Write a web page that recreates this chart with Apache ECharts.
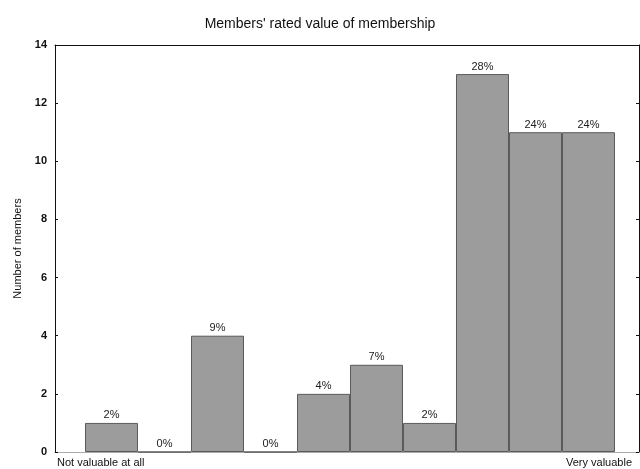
<!DOCTYPE html>
<html>
<head>
<meta charset="utf-8">
<script src="https://cdn.jsdelivr.net/npm/echarts@6/dist/echarts.min.js"></script>
<style>
  html, body { margin: 0; padding: 0; background: #fff; }
  #chart { width: 640px; height: 469px; }
</style>
</head>
<body>
<div id="chart"></div>
<script>
// Rating scale positions (1 = not valuable at all ... 10 = very valuable)
const ratings = [1, 2, 3, 4, 5, 6, 7, 8, 9, 10];
// Number of members giving each rating
const members = [1, 0, 4, 0, 2, 3, 1, 13, 11, 11];
// Y axis ticks
const yTicks = [0, 2, 4, 6, 8, 10, 12, 14];
const endLabels = ['Not valuable at all', 'Very valuable'];

const total = members.reduce((a, b) => a + b, 0);
const font = 'Liberation Sans, Arial, sans-serif';
const xMin = -0.066, xMax = 10.953;

const frameX = (pos, color) => ({
  type: 'value', position: pos, min: xMin, max: xMax,
  axisLine: { show: true, onZero: false, lineStyle: { color: color } },
  axisTick: { show: false }, axisLabel: { show: false }, splitLine: { show: false }
});

const chart = echarts.init(document.getElementById('chart'));
chart.setOption({
  animation: false,
  backgroundColor: '#fff',
  title: {
    text: "Members' rated value of membership",
    left: 'center',
    top: 12,
    textStyle: { fontFamily: font, fontSize: 14, fontWeight: 'normal', color: '#111' }
  },
  grid: { left: 55, right: 1, top: 45, bottom: 17 },
  xAxis: [frameX('bottom', '#aaa'), frameX('top', '#111')],
  yAxis: [{
    type: 'value',
    min: yTicks[0],
    max: yTicks[yTicks.length - 1],
    interval: 2,
    name: 'Number of members',
    nameLocation: 'middle',
    nameGap: 32,
    nameTextStyle: { fontFamily: font, fontSize: 11, color: '#111' },
    axisLine: { show: true, onZero: false, lineStyle: { color: '#111' } },
    axisTick: { show: true, inside: true, length: 3, lineStyle: { color: '#111' } },
    axisLabel: { fontFamily: font, fontSize: 11, fontWeight: 'bold', color: '#111', margin: 8 },
    splitLine: { show: false }
  }, {
    type: 'value',
    position: 'right',
    min: yTicks[0],
    max: yTicks[yTicks.length - 1],
    interval: 2,
    axisLine: { show: true, onZero: false, lineStyle: { color: '#111' } },
    axisTick: { show: true, inside: true, length: 3, lineStyle: { color: '#111' } },
    axisLabel: { show: false },
    splitLine: { show: false }
  }],
  series: [{
    type: 'bar',
    data: ratings.map((r, i) => [r, members[i]]),
    barWidth: 53,
    itemStyle: { color: '#9c9c9c', borderColor: '#5a5a5a', borderWidth: 1 },
    label: {
      show: true,
      position: 'top',
      distance: 2,
      fontFamily: font,
      fontSize: 11,
      color: '#222',
      formatter: p => Math.round(p.value[1] / total * 100) + '%'
    }
  }],
  graphic: [
    { type: 'text', left: 57, top: 457,
      style: { text: endLabels[0], font: '11px ' + font, fill: '#111' } },
    { type: 'text', right: 8, top: 457,
      style: { text: endLabels[1], font: '11px ' + font, fill: '#111' } }
  ]
});
</script>
</body>
</html>
